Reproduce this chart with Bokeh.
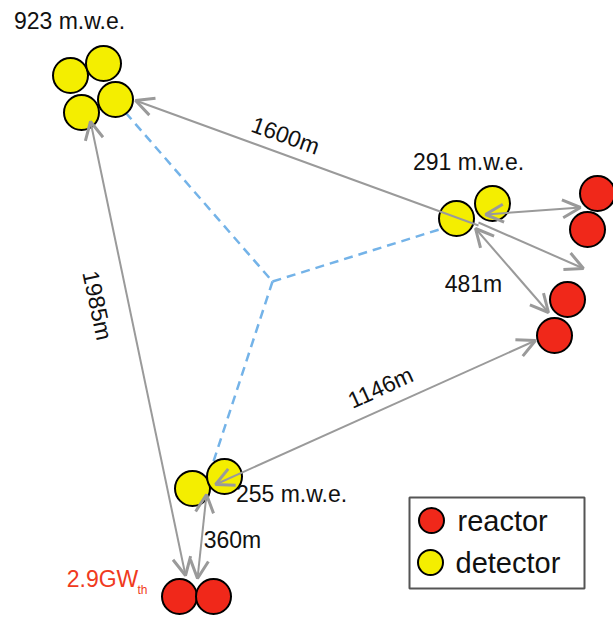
from bokeh.plotting import figure
from bokeh.models import Range1d, Arrow, OpenHead, ColumnDataSource
from bokeh.core.properties import value
from bokeh.embed import file_html
from bokeh.resources import INLINE
import math

FONT = value("Liberation Sans")

# detector halls (pixel-like layout coordinates)
det_x = [70, 103, 115, 81, 456, 492, 192, 224]
det_y = [75, 63, 99, 112, 218, 203, 488, 476]
# reactor cores
rea_x = [597, 587, 567, 554, 179, 213]
rea_y = [193, 229, 299, 335, 596, 596]

# baseline arrows: (x0, y0, x1, y1, head at start, head at end)
arrows = [
    (135, 100, 478, 225, True, False),   # 1600m
    (485, 214, 580, 207, True, True),
    (478, 222, 583, 268, False, True),
    (475, 228, 548, 312, True, True),    # 481m
    (215, 484, 535, 340, True, True),    # 1146m
    (90, 121, 185, 575, True, True),     # 1985m
    (206, 494, 197, 578, True, True),    # 360m
]

# dashed tunnel lines
cx, cy = 272, 281
tun_x = [[125, cx], [cx, 442], [cx, 210]]
tun_y = [[112, cy], [cy, 228], [cy, 470]]

labels = ["923 m.w.e.", "291 m.w.e.", "255 m.w.e.", "1600m", "481m", "1146m", "1985m", "360m"]
lab_x = [69, 468, 291, 285, 473, 380, 97, 232]
lab_y = [20, 161, 493, 135, 283, 387, 305, 539]
lab_ang = [0, 0, 0, -19.5, 0, 24.4, -78, 0]

legend_labels = ["reactor", "detector"]

p = figure(width=613, height=618, output_backend="svg", toolbar_location=None,
           x_range=Range1d(0, 613), y_range=Range1d(618, 0), min_border=0)
p.axis.visible = False
p.grid.visible = False
p.outline_line_color = None

p.multi_line(tun_x, tun_y, line_color="#74b3e8", line_width=2.5, line_dash="9 6")

p.scatter(rea_x, rea_y, size=35, fill_color="#f0281a", line_color="black", line_width=2)
p.scatter(det_x, det_y, size=35, fill_color="#f4ee00", line_color="black", line_width=2)

for x0, y0, x1, y1, hs, he in arrows:
    kw = {}
    kw["start"] = OpenHead(size=18, line_color="#9a9a9a", line_width=3) if hs else None
    kw["end"] = OpenHead(size=18, line_color="#9a9a9a", line_width=3) if he else None
    p.add_layout(Arrow(x_start=x0, y_start=y0, x_end=x1, y_end=y1,
                       line_color="#9a9a9a", line_width=2, **kw))

src = ColumnDataSource(dict(x=lab_x, y=lab_y, t=labels,
                            a=[math.radians(a) for a in lab_ang]))
p.text("x", "y", text="t", angle="a", source=src, text_font=FONT,
       text_font_size="23px", text_color="#111111", text_align="center",
       text_baseline="middle")

p.text([102], [578], text=["2.9GW"], text_font=FONT, text_font_size="23px",
       text_color="#f03a20", text_align="center", text_baseline="middle")
p.text([142], [589], text=["th"], text_font=FONT, text_font_size="12px",
       text_color="#f03a20", text_align="center", text_baseline="middle")

# legend
p.quad(left=[409], right=[584], top=[497], bottom=[588],
       fill_color="white", line_color="#555555", line_width=2)
p.scatter([431, 430], [520, 562], size=25, fill_color=["#f0281a", "#f4ee00"],
          line_color="black", line_width=2)
p.text([457, 455], [520, 562], text=legend_labels, text_font=FONT,
       text_font_size="29px", text_color="#111111", text_align="left",
       text_baseline="middle")

open("out.html", "w").write(file_html(p, INLINE))
